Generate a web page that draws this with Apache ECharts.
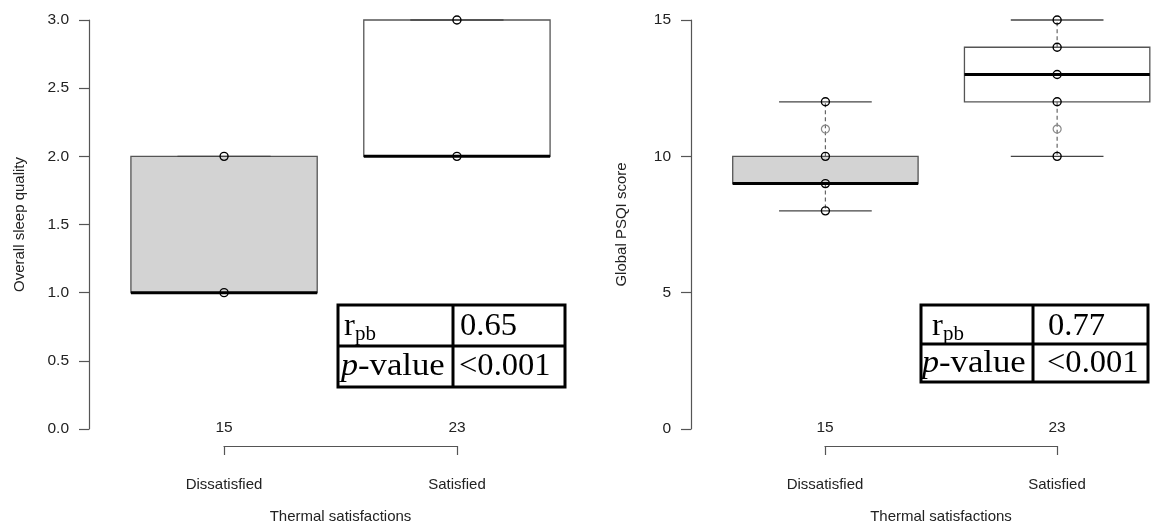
<!DOCTYPE html>
<html>
<head>
<meta charset="utf-8">
<script src="https://cdn.jsdelivr.net/npm/echarts@6/dist/echarts.min.js"></script>
<style>
html,body{margin:0;padding:0;background:#fff;}
#chart{width:1154px;height:526px;}
</style>
</head>
<body>
<div id="chart"></div>
<script>
// ---- data ----
const categories = ['Dissatisfied', 'Satisfied'];
const groupCounts = ['15', '23'];
const boxFills = ['#d3d3d3', '#ffffff'];

// Left panel: Overall sleep quality
const sleepMin = [1, 2];
const sleepQ1 = [1, 2];
const sleepMedian = [1, 2];
const sleepQ3 = [2, 3];
const sleepMax = [2, 3];
const sleepPoints = [[1, 2], [2, 3]];
const sleepTicks = [0, 0.5, 1, 1.5, 2, 2.5, 3];

// Right panel: Global PSQI score
const psqiMin = [8, 10];
const psqiQ1 = [9, 12];
const psqiMedian = [9, 13];
const psqiQ3 = [10, 14];
const psqiMax = [12, 15];
const psqiPoints = [[8, 9, 10, 12], [10, 12, 13, 14, 15]];
const psqiFaint = [[11], [11]];
const psqiTicks = [0, 5, 10, 15];

const tableLeft = { r: '0.65', p: '<0.001' };
const tableRight = { r: '0.77', p: '<0.001' };

// ---- helpers ----
const SANS = '"Liberation Sans", Arial, sans-serif';
const SERIF = '"Liberation Serif", "Times New Roman", serif';
const TXT = '#222';
const AX = '#555';

function boxData(mn, q1, md, q3, mx) {
  return categories.map((c, i) => [i + 1, mn[i], q1[i], md[i], q3[i], mx[i]]);
}
function pointData(pts) {
  const out = [];
  pts.forEach((arr, i) => arr.forEach(v => out.push([i + 1, v])));
  return out;
}
function renderBox(params, api) {
  const x = api.value(0);
  const mn = api.value(1), q1 = api.value(2), md = api.value(3), q3 = api.value(4), mx = api.value(5);
  const pMin = api.coord([x, mn]), pQ1 = api.coord([x, q1]), pMd = api.coord([x, md]);
  const pQ3 = api.coord([x, q3]), pMax = api.coord([x, mx]);
  const half = api.size([0.4, 0])[0];
  const cap = api.size([0.2, 0])[0];
  const cx = pMd[0];
  const children = [];
  const dashStyle = { stroke: '#666', lineWidth: 1.2, lineDash: [4, 3] };
  if (mx > q3) children.push({ type: 'line', shape: { x1: cx, y1: pQ3[1], x2: cx, y2: pMax[1] }, style: dashStyle });
  if (mn < q1) children.push({ type: 'line', shape: { x1: cx, y1: pQ1[1], x2: cx, y2: pMin[1] }, style: dashStyle });
  children.push({
    type: 'rect',
    shape: { x: cx - half, y: pQ3[1], width: 2 * half, height: pQ1[1] - pQ3[1] },
    style: { fill: boxFills[params.dataIndex], stroke: '#555', lineWidth: 1.3 }
  });
  children.push({ type: 'line', shape: { x1: cx - cap, y1: pMax[1], x2: cx + cap, y2: pMax[1] }, style: { stroke: '#444', lineWidth: 1.3 } });
  children.push({ type: 'line', shape: { x1: cx - cap, y1: pMin[1], x2: cx + cap, y2: pMin[1] }, style: { stroke: '#444', lineWidth: 1.3 } });
  children.push({ type: 'line', shape: { x1: cx - half, y1: pMd[1], x2: cx + half, y2: pMd[1] }, style: { stroke: '#000', lineWidth: 3 } });
  return { type: 'group', children };
}

function yAxisCfg(gridIndex, max, interval, name, fmt) {
  return {
    gridIndex, type: 'value', min: 0, max, interval,
    name, nameLocation: 'middle', nameGap: 62, nameRotate: 90,
    nameTextStyle: { fontFamily: SANS, fontSize: 15, color: TXT },
    axisLine: { show: true, lineStyle: { color: AX, width: 1.2 } },
    axisTick: { show: true, inside: false, length: 10, lineStyle: { color: AX, width: 1.2 } },
    axisLabel: { margin: 20, fontFamily: SANS, fontSize: 15.5, color: TXT, formatter: fmt },
    splitLine: { show: false }
  };
}
function hiddenX(gridIndex, max) {
  return { gridIndex, type: 'value', min: 0.42, max, show: false, splitLine: { show: false } };
}
function bracketAxes(gridIndex) {
  return [
    {
      gridIndex, type: 'category', data: categories, boundaryGap: false, position: 'bottom',
      name: 'Thermal satisfactions', nameLocation: 'middle', nameGap: 63,
      nameTextStyle: { fontFamily: SANS, fontSize: 15, color: TXT },
      axisLine: { show: true, lineStyle: { color: AX, width: 1.2 } },
      axisTick: { show: true, inside: false, length: 9, alignWithLabel: true, interval: 0, lineStyle: { color: AX, width: 1.2 } },
      axisLabel: { margin: 31, interval: 0, fontFamily: SANS, fontSize: 15, color: TXT }
    },
    {
      gridIndex, type: 'category', data: groupCounts, boundaryGap: false, position: 'top',
      axisLine: { show: false }, axisTick: { show: false },
      axisLabel: { margin: 9, interval: 0, fontFamily: SANS, fontSize: 15.5, color: TXT }
    }
  ];
}
function hiddenY(gridIndex) {
  return { gridIndex, type: 'value', show: false, min: 0, max: 1, splitLine: { show: false } };
}

// t: table geometry and text offsets
function table(t, vals) {
  const els = [];
  const ln = { stroke: '#000', lineWidth: 3 };
  els.push({ type: 'rect', shape: { x: t.x0, y: t.y0, width: t.x1 - t.x0, height: t.y1 - t.y0 }, style: { fill: 'none', stroke: '#000', lineWidth: 3 } });
  els.push({ type: 'line', shape: { x1: t.xm, y1: t.y0, x2: t.xm, y2: t.y1 }, style: ln });
  els.push({ type: 'line', shape: { x1: t.x0, y1: t.ym, x2: t.x1, y2: t.ym }, style: ln });
  const r1 = 327, r2 = t.r2;
  const big = '31px ' + SERIF;
  const txt = (x, y, s, font, sx) => ({ type: 'text', x, y, scaleX: sx || 1, style: { text: s, font, fill: '#000', verticalAlign: 'middle', align: 'left' } });
  els.push(txt(t.x0 + t.rOff, r1, 'r', big, 1.05));
  els.push(txt(t.x0 + t.rOff + 11, r1 + 8, 'pb', '20px ' + SERIF, 1.05));
  els.push(txt(t.xm + t.vOff, r1, vals.r, big, 1.05));
  els.push(txt(t.x0 + t.pOff, r2, 'p', 'italic 31px ' + SERIF, 1.1));
  els.push(txt(t.x0 + t.pOff + 17, r2, '-value', big, 1.12));
  els.push(txt(t.xm + t.vOff - 1, r2, vals.p, big, 1.05));
  return els;
}

const chart = echarts.init(document.getElementById('chart'), null, { renderer: 'canvas' });
const option = {
  animation: false,
  backgroundColor: '#fff',
  grid: [
    { left: 89, width: 503, top: 20, height: 409 },
    { left: 691, width: 463, top: 20, height: 409 },
    { left: 224, width: 233, top: 445, height: 1 },
    { left: 825, width: 232, top: 445, height: 1 }
  ],
  xAxis: [hiddenX(0, 2.58), hiddenX(1, 2.418)].concat(bracketAxes(2), bracketAxes(3)),
  yAxis: [
    yAxisCfg(0, 3, 0.5, 'Overall sleep quality', v => v.toFixed(1)),
    yAxisCfg(1, 15, 5, 'Global PSQI score', v => String(v)),
    hiddenY(2), hiddenY(3)
  ],
  series: [
    { type: 'custom', xAxisIndex: 0, yAxisIndex: 0, renderItem: renderBox, clip: false, data: boxData(sleepMin, sleepQ1, sleepMedian, sleepQ3, sleepMax), z: 2 },
    { type: 'custom', xAxisIndex: 1, yAxisIndex: 1, renderItem: renderBox, clip: false, data: boxData(psqiMin, psqiQ1, psqiMedian, psqiQ3, psqiMax), z: 2 },
    { type: 'scatter', xAxisIndex: 0, yAxisIndex: 0, clip: false, symbol: 'circle', symbolSize: 8, z: 5,
      itemStyle: { color: 'rgba(0,0,0,0)', borderColor: '#000', borderWidth: 1.4, opacity: 1 }, data: pointData(sleepPoints) },
    { type: 'scatter', xAxisIndex: 1, yAxisIndex: 1, clip: false, symbol: 'circle', symbolSize: 8, z: 5,
      itemStyle: { color: 'rgba(0,0,0,0)', borderColor: '#000', borderWidth: 1.4, opacity: 1 }, data: pointData(psqiPoints) },
    { type: 'scatter', xAxisIndex: 1, yAxisIndex: 1, clip: false, symbol: 'circle', symbolSize: 8, z: 5,
      itemStyle: { color: 'rgba(0,0,0,0)', borderColor: '#888', borderWidth: 1.2, opacity: 1 }, data: pointData(psqiFaint) }
  ],
  graphic: {
    elements: table({ x0: 338, x1: 565, xm: 453, y0: 305, y1: 387, ym: 346, rOff: 6, vOff: 7, pOff: 3, r2: 367 }, tableLeft)
      .concat(table({ x0: 921, x1: 1148, xm: 1033, y0: 305, y1: 382, ym: 344, rOff: 11, vOff: 15, pOff: 1, r2: 364 }, tableRight))
  }
};
chart.setOption(option);
</script>
</body>
</html>
